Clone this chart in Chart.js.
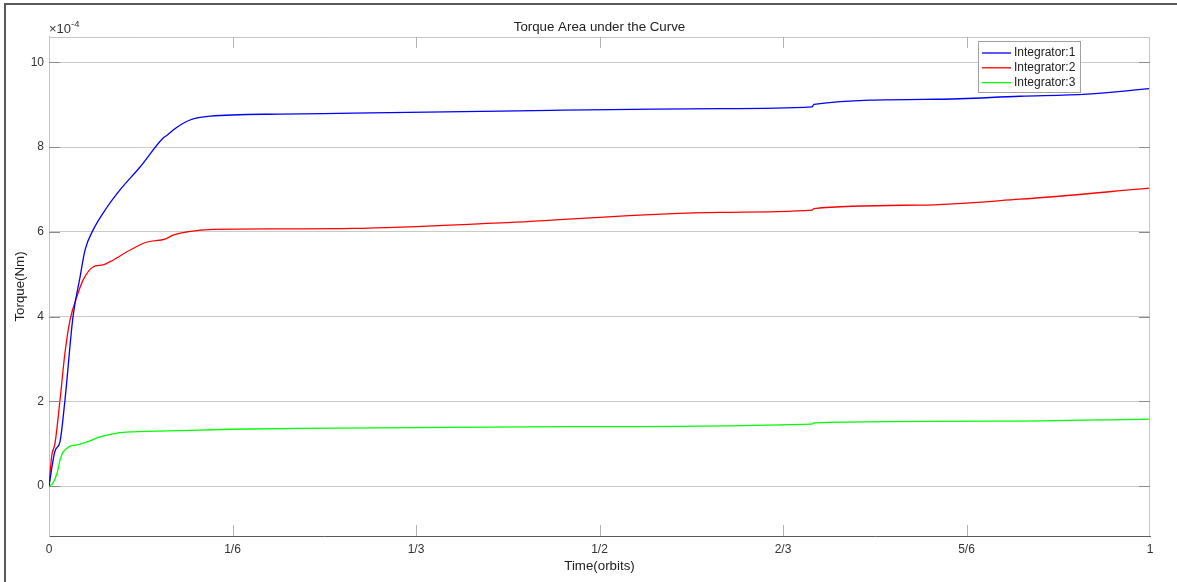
<!DOCTYPE html>
<html>
<head>
<meta charset="utf-8">
<title>Torque Area under the Curve</title>
<script src="https://cdn.jsdelivr.net/npm/chart.js@4.4.1/dist/chart.umd.min.js"></script>
<style>
  html, body { margin: 0; padding: 0; background: #fff; }
</style>
</head>
<body>
<canvas id="torqueChart" width="1177" height="582"></canvas>
<script>
// Values: time in orbits, torque in units of 1e-4 Nm
const blueTime = [0, 0.0054, 0.0100, 0.0145, 0.0218, 0.0282, 0.0327, 0.0400, 0.0527, 0.0645, 0.0827, 0.1035, 0.1072, 0.1163, 0.1281, 0.1462, 0.2098, 0.2761, 0.4096, 0.6094, 0.6930, 0.6948, 0.8065, 0.8819, 0.9428, 1.0];
const blueTorque = [0, 0.82, 1.05, 2.03, 4.0, 4.93, 5.57, 6.04, 6.58, 6.99, 7.53, 8.21, 8.28, 8.47, 8.64, 8.73, 8.78, 8.80, 8.85, 8.91, 8.95, 9.01, 9.13, 9.20, 9.25, 9.38];

const redTime = [0, 0.0025, 0.0054, 0.0100, 0.0145, 0.0191, 0.0252, 0.0309, 0.0400, 0.0490, 0.0581, 0.0736, 0.0890, 0.1054, 0.1126, 0.1253, 0.1490, 0.2098, 0.2761, 0.4096, 0.6094, 0.6930, 0.6948, 0.7911, 0.8819, 1.0];
const redTorque = [0, 0.72, 1.0, 2.03, 3.14, 3.92, 4.46, 4.86, 5.17, 5.22, 5.33, 5.57, 5.76, 5.83, 5.92, 6.0, 6.06, 6.07, 6.08, 6.21, 6.46, 6.51, 6.55, 6.63, 6.77, 7.03];

const greenTime = [0, 0.0036, 0.0073, 0.0100, 0.0127, 0.0145, 0.0191, 0.0254, 0.0345, 0.0463, 0.0618, 0.0763, 0.1072, 0.1671, 0.2280, 0.4678, 0.6930, 0.6948, 0.8638, 1.0];
const greenTorque = [0, 0.07, 0.3, 0.61, 0.8, 0.85, 0.94, 0.97, 1.04, 1.16, 1.25, 1.28, 1.30, 1.34, 1.36, 1.40, 1.46, 1.49, 1.53, 1.58];

const seriesNames = ['Integrator:1', 'Integrator:2', 'Integrator:3'];
const seriesColors = ['#0000ff', '#ff0000', '#00ff00'];

const xTickValues = [0, 1 / 6, 1 / 3, 1 / 2, 2 / 3, 5 / 6, 1];
const xTickLabels = ['0', '1/6', '1/3', '1/2', '2/3', '5/6', '1'];
const yTickValues = [0, 2, 4, 6, 8, 10];

const fontFamily = '"Liberation Sans", Arial, Helvetica, sans-serif';

// Function to pair time and torque arrays into points
function toPoints(times, values) {
  return times.map(function (t, i) {
    return { x: t, y: values[i] };
  });
}

// Draws the MATLAB-style extras: figure frame, box edges, inward ticks, exponent, legend
const matlabLook = {
  id: 'matlabLook',
  afterDraw: function (chart) {
    const ctx = chart.ctx;
    const area = chart.chartArea;
    const xs = chart.scales.x;
    const ys = chart.scales.y;
    ctx.save();

    // figure frame, only left and top edges are visible
    ctx.fillStyle = '#5a5a5a';
    ctx.fillRect(4, 3, chart.width - 4, 2);
    ctx.fillRect(4, 3, 2, chart.height - 3);

    // top and right edges of the axes box
    ctx.strokeStyle = '#c4c4c4';
    ctx.lineWidth = 1;
    ctx.beginPath();
    ctx.moveTo(area.left, area.top + 0.5);
    ctx.lineTo(area.right, area.top + 0.5);
    ctx.moveTo(area.right - 0.5, area.top);
    ctx.lineTo(area.right - 0.5, area.bottom);
    ctx.stroke();

    // inward tick marks
    ctx.strokeStyle = '#8c8c8c';
    ctx.beginPath();
    yTickValues.forEach(function (v) {
      const py = Math.round(ys.getPixelForValue(v)) + 0.5;
      ctx.moveTo(area.left, py);
      ctx.lineTo(area.left + 11, py);
      ctx.moveTo(area.right, py);
      ctx.lineTo(area.right - 11, py);
    });
    ctx.stroke();
    ctx.strokeStyle = '#b4b4b4';
    ctx.beginPath();
    xTickValues.forEach(function (v, i) {
      if (i === 0 || i === xTickValues.length - 1) return;
      const px = Math.round(xs.getPixelForValue(v)) + 0.5;
      ctx.moveTo(px, area.bottom);
      ctx.lineTo(px, area.bottom - 11);
      ctx.moveTo(px, area.top);
      ctx.lineTo(px, area.top + 11);
    });
    ctx.stroke();

    // exponent label above the y axis
    ctx.fillStyle = '#333';
    ctx.textBaseline = 'alphabetic';
    ctx.textAlign = 'left';
    ctx.font = '13px ' + fontFamily;
    ctx.fillText('\u00d710', area.left, 33);
    const w = ctx.measureText('\u00d710').width;
    ctx.font = '9.5px ' + fontFamily;
    ctx.fillText('-4', area.left + w, 27);

    // legend box in the top right corner
    const lx = 978, ly = 41, lw = 102, lh = 51;
    ctx.fillStyle = '#fff';
    ctx.fillRect(lx, ly, lw, lh);
    ctx.strokeStyle = '#a0a0a0';
    ctx.strokeRect(lx + 0.5, ly + 0.5, lw, lh);
    ctx.font = '12px ' + fontFamily;
    ctx.textBaseline = 'middle';
    chart.data.datasets.forEach(function (ds, i) {
      const rowY = 53 + i * 14.8;
      ctx.strokeStyle = ds.borderColor;
      ctx.lineWidth = 1.3;
      ctx.beginPath();
      ctx.moveTo(982, rowY);
      ctx.lineTo(1011, rowY);
      ctx.stroke();
      ctx.fillStyle = '#222';
      ctx.fillText(ds.label, 1014, rowY);
    });

    ctx.restore();
  },
};

Chart.defaults.font.family = fontFamily;
Chart.defaults.font.size = 12;
Chart.defaults.color = '#333';

const ctx = document.getElementById('torqueChart').getContext('2d');
new Chart(ctx, {
  type: 'line',
  data: {
    datasets: [
      { label: seriesNames[0], data: toPoints(blueTime, blueTorque), borderColor: seriesColors[0] },
      { label: seriesNames[1], data: toPoints(redTime, redTorque), borderColor: seriesColors[1] },
      { label: seriesNames[2], data: toPoints(greenTime, greenTorque), borderColor: seriesColors[2] },
    ],
  },
  options: {
    responsive: false,
    animation: false,
    devicePixelRatio: 1,
    layout: { padding: { left: 0, right: 27, top: 0, bottom: 0 } },
    elements: {
      line: { borderWidth: 1.3, cubicInterpolationMode: 'monotone', fill: false },
      point: { radius: 0 },
    },
    plugins: {
      legend: { display: false },
      tooltip: { enabled: false },
      title: {
        display: true,
        fullSize: false,
        text: 'Torque Area under the Curve',
        color: '#222',
        font: { size: 13.3, weight: 'normal', lineHeight: 1.2 },
        padding: { top: 19, bottom: 2 },
      },
    },
    scales: {
      x: {
        type: 'linear',
        min: 0,
        max: 1,
        afterBuildTicks: function (scale) {
          scale.ticks = xTickValues.map(function (v) { return { value: v }; });
        },
        afterFit: function (scale) { scale.height = 46; },
        ticks: {
          padding: 6,
          maxRotation: 0,
          autoSkip: false,
          callback: function (value, index) { return xTickLabels[index]; },
        },
        grid: { display: false, drawTicks: false },
        border: { display: true, color: '#5a5a5a', width: 1 },
        title: {
          display: true,
          text: 'Time(orbits)',
          color: '#222',
          font: { size: 13.3 },
          padding: { top: 0, bottom: 8 },
        },
      },
      y: {
        type: 'linear',
        min: -1.18,
        max: 10.6,
        afterBuildTicks: function (scale) {
          scale.ticks = yTickValues.map(function (v) { return { value: v }; });
        },
        afterFit: function (scale) { scale.width = 49; },
        ticks: { padding: 5 },
        grid: { color: '#cacaca', drawTicks: false },
        border: { display: true, color: '#c4c4c4', width: 1 },
        title: {
          display: true,
          text: 'Torque(Nm)',
          color: '#222',
          font: { size: 13.3 },
          padding: { top: 12, bottom: 0 },
        },
      },
    },
  },
  plugins: [matlabLook],
});
</script>
</body>
</html>
